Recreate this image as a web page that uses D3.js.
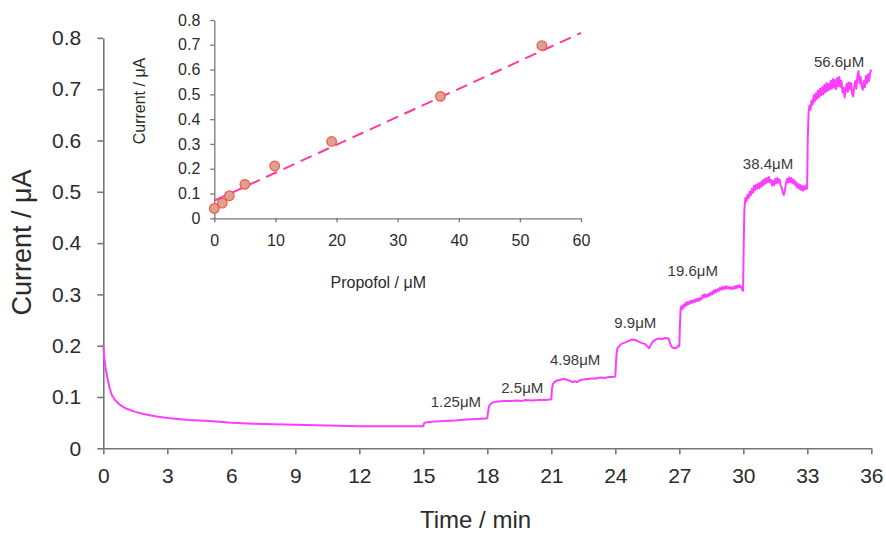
<!DOCTYPE html>
<html>
<head>
<meta charset="utf-8">
<script src="https://cdn.jsdelivr.net/npm/d3@7"></script>
<style>
  html, body { margin: 0; padding: 0; background: #fff; }
  svg { display: block; font-family: "Liberation Sans", Arial, Helvetica, sans-serif; }
  .axis path, .axis line { stroke: #777; }
  .axis text { fill: #2b2b2b; }
</style>
</head>
<body>
<svg id="chart" width="886" height="536"></svg>
<script>
// Amperometric trace: time (min) and current (µA)
const traceTime = [
  0, 0.05, 0.1, 0.2, 0.3, 0.4, 0.55, 0.8, 1.1, 1.5, 2.0, 2.5, 3.0, 3.5, 4.0, 4.5, 5.0, 6.0, 7.0, 8.0, 9.0, 10.0, 11.0, 12.0, 13.0, 14.0, 14.97,
  15.0, 15.02, 15.06, 15.2, 15.5, 16.0, 16.5, 17.0, 17.5, 17.95, 18.0,
  18.05, 18.1, 18.2, 18.3, 18.5, 18.8, 19.1, 19.4, 19.6, 19.8, 20.1, 20.4, 20.7, 20.95, 21.0,
  21.03, 21.07, 21.15, 21.25, 21.4, 21.55, 21.7, 21.85, 22.0, 22.1, 22.2, 22.35, 22.5, 22.7, 22.9, 23.1, 23.3, 23.5, 23.7, 23.9, 24.0,
  24.03, 24.06, 24.1, 24.2, 24.3, 24.45, 24.6, 24.8, 24.95, 25.1, 25.25, 25.4, 25.5, 25.58, 25.65, 25.75, 25.9, 26.05, 26.2, 26.35, 26.5, 26.56, 26.62, 26.7, 26.8, 26.9, 26.97,
  27.0, 27.03, 27.06,
  27.1, 27.15, 27.2, 27.25, 27.3, 27.35, 27.4, 27.45, 27.5, 27.55, 27.6, 27.65, 27.7, 27.75, 27.8, 27.85, 27.9, 27.95,
  28.0, 28.05, 28.1, 28.15, 28.2, 28.25, 28.3, 28.35, 28.4, 28.45, 28.5, 28.55, 28.6, 28.65, 28.7, 28.75, 28.8, 28.85, 28.9, 28.95,
  29.0, 29.05, 29.1, 29.15, 29.2, 29.25, 29.3, 29.35, 29.4, 29.45, 29.5, 29.55, 29.6, 29.65, 29.7, 29.75, 29.8, 29.85, 29.9, 29.95, 29.99,
  30.02, 30.05, 30.1,
  30.15, 30.2, 30.25, 30.3, 30.35, 30.4, 30.45, 30.5, 30.55, 30.6, 30.65, 30.7, 30.75, 30.8, 30.85, 30.9, 30.95,
  31.0, 31.05, 31.1, 31.15, 31.2, 31.25, 31.3, 31.35, 31.4, 31.45, 31.5, 31.55, 31.6, 31.65, 31.7, 31.75, 31.8, 31.85, 31.9, 31.95,
  32.0, 32.05, 32.1, 32.15, 32.2, 32.25, 32.3, 32.35, 32.4, 32.45, 32.5, 32.55, 32.6, 32.65, 32.7, 32.75, 32.8, 32.85, 32.9, 32.95, 32.99,
  33.02, 33.06, 33.1,
  33.15, 33.2, 33.25, 33.3, 33.35, 33.4, 33.45, 33.5, 33.55, 33.6, 33.65, 33.7, 33.75, 33.8, 33.85, 33.9, 33.95,
  34.0, 34.05, 34.1, 34.15, 34.2, 34.25, 34.3, 34.35, 34.4, 34.45, 34.5, 34.55, 34.6, 34.65, 34.7, 34.75, 34.8, 34.85, 34.9, 34.95,
  35.0, 35.05, 35.1, 35.15, 35.2, 35.25, 35.3, 35.35, 35.4, 35.45, 35.5, 35.55, 35.6, 35.65, 35.7, 35.75, 35.8, 35.85, 35.9, 35.95, 36.0
];
const traceCurrent = [
  0.200, 0.175, 0.158, 0.135, 0.117, 0.104, 0.094, 0.084, 0.077, 0.071, 0.066, 0.062, 0.059, 0.057, 0.055, 0.054, 0.053, 0.050, 0.048, 0.047, 0.046, 0.045, 0.044, 0.043, 0.043, 0.043, 0.043,
  0.043, 0.047, 0.050, 0.051, 0.052, 0.053, 0.054, 0.056, 0.057, 0.058, 0.059,
  0.075, 0.084, 0.088, 0.090, 0.091, 0.092, 0.092, 0.093, 0.092, 0.094, 0.093, 0.094, 0.094, 0.095, 0.096,
  0.115, 0.125, 0.129, 0.132, 0.133, 0.135, 0.134, 0.132, 0.129, 0.131, 0.129, 0.133, 0.134, 0.135, 0.136, 0.136, 0.138, 0.137, 0.139, 0.139, 0.140,
  0.165, 0.185, 0.195, 0.200, 0.204, 0.206, 0.209, 0.212, 0.211, 0.208, 0.205, 0.203, 0.199, 0.195, 0.200, 0.208, 0.212, 0.214, 0.213, 0.215, 0.214, 0.206, 0.199, 0.196, 0.195, 0.197, 0.201,
  0.199, 0.240, 0.272,
  0.277, 0.271, 0.280, 0.276, 0.284, 0.279, 0.285, 0.281, 0.287, 0.283, 0.288, 0.284, 0.289, 0.286, 0.291, 0.287, 0.292, 0.288,
  0.293, 0.291, 0.299, 0.294, 0.300, 0.295, 0.299, 0.296, 0.302, 0.298, 0.304, 0.300, 0.307, 0.303, 0.309, 0.305, 0.310, 0.307, 0.313, 0.309,
  0.314, 0.310, 0.315, 0.311, 0.316, 0.312, 0.315, 0.311, 0.314, 0.310, 0.314, 0.311, 0.316, 0.312, 0.317, 0.313, 0.318, 0.314, 0.316, 0.309, 0.307,
  0.400, 0.465, 0.488,
  0.482, 0.494, 0.488, 0.500, 0.493, 0.506, 0.498, 0.512, 0.503, 0.514, 0.506, 0.516, 0.507, 0.518, 0.510, 0.522, 0.513,
  0.525, 0.516, 0.527, 0.519, 0.529, 0.518, 0.523, 0.512, 0.521, 0.513, 0.525, 0.516, 0.527, 0.518, 0.524, 0.512, 0.508, 0.498, 0.494, 0.503,
  0.516, 0.525, 0.518, 0.528, 0.519, 0.527, 0.517, 0.524, 0.514, 0.520, 0.509, 0.516, 0.506, 0.514, 0.504, 0.512, 0.502, 0.511, 0.505, 0.512, 0.506,
  0.600, 0.655, 0.668,
  0.660, 0.678, 0.670, 0.688, 0.676, 0.692, 0.681, 0.697, 0.684, 0.701, 0.688, 0.704, 0.690, 0.708, 0.694, 0.712, 0.697,
  0.710, 0.699, 0.716, 0.701, 0.720, 0.703, 0.718, 0.700, 0.722, 0.706, 0.724, 0.705, 0.716, 0.694, 0.703, 0.684, 0.699, 0.711, 0.695, 0.713,
  0.700, 0.712, 0.692, 0.686, 0.705, 0.716, 0.701, 0.726, 0.735, 0.712, 0.724, 0.705, 0.699, 0.716, 0.704, 0.726, 0.712, 0.729, 0.716, 0.733, 0.738
];

// Propofol additions annotated on the trace (label, time, current at label baseline)
const stepLabels = ["1.25\u03bcM", "2.5\u03bcM", "4.98\u03bcM", "9.9\u03bcM", "19.6\u03bcM", "38.4\u03bcM", "56.6\u03bcM"];
const stepLabelTime = [16.53, 19.64, 22.12, 24.94, 27.63, 31.16, 34.49];
const stepLabelCurrent = [0.0805, 0.1084, 0.1624, 0.234, 0.3365, 0.544, 0.744];

// Calibration (inset): concentration (µM) vs steady-state current (µA)
const calConc = [0, 1.3, 2.46, 5.0, 9.88, 19.2, 37.0, 53.6];
const calCurrent = [0.040, 0.061, 0.091, 0.137, 0.211, 0.310, 0.492, 0.697];
const fitIntercept = 0.071;
const fitSlope = 0.01128;

// Axis ticks
const mainTimeTicks = [0, 3, 6, 9, 12, 15, 18, 21, 24, 27, 30, 33, 36];
const mainCurrentTicks = [0, 0.1, 0.2, 0.3, 0.4, 0.5, 0.6, 0.7, 0.8];
const insetConcTicks = [0, 10, 20, 30, 40, 50, 60];
const insetCurrentTicks = [0, 0.1, 0.2, 0.3, 0.4, 0.5, 0.6, 0.7, 0.8];

const svg = d3.select("#chart");
const fmt = d => d === 0 ? "0" : d3.format(".1f")(d);

// ---- Main panel ----
const x = d3.scaleLinear().domain([0, 36]).range([103.3, 871.3]);
const y = d3.scaleLinear().domain([0, 0.8]).range([448.3, 37.9]);

const gx = svg.append("g").attr("class", "axis")
  .attr("transform", `translate(0,${y(0)})`)
  .call(d3.axisBottom(x).tickValues(mainTimeTicks).tickSize(6).tickSizeOuter(0).tickPadding(14).tickFormat(d3.format("d")));
gx.selectAll("text").style("font-size", "21px");
gx.selectAll("path, line").style("stroke-width", 1.6);

const gy = svg.append("g").attr("class", "axis")
  .attr("transform", `translate(${x(0)},0)`)
  .call(d3.axisLeft(y).tickValues(mainCurrentTicks).tickSize(6).tickSizeOuter(0).tickPadding(16).tickFormat(fmt));
gy.selectAll("text").style("font-size", "21px");
gy.selectAll("path, line").style("stroke-width", 1.6);

const trace = traceTime.map((t, i) => [t, traceCurrent[i]]);
svg.append("path")
  .datum(trace)
  .attr("fill", "none")
  .attr("stroke", "#ff3dff")
  .attr("stroke-width", 2)
  .attr("stroke-linejoin", "round")
  .attr("d", d3.line().x(d => x(d[0])).y(d => y(d[1])));

svg.append("g").selectAll("text")
  .data(stepLabels)
  .join("text")
  .attr("x", (d, i) => x(stepLabelTime[i]))
  .attr("y", (d, i) => y(stepLabelCurrent[i]))
  .attr("text-anchor", "middle")
  .style("font-size", "15px")
  .style("fill", "#3a3a3a")
  .text(d => d);

svg.append("text")
  .attr("transform", "translate(31,242.5) rotate(-90)")
  .attr("text-anchor", "middle")
  .style("font-size", "27px")
  .style("fill", "#2b2b2b")
  .text("Current / \u03bcA");

svg.append("text")
  .attr("x", 475.5).attr("y", 527.5)
  .attr("text-anchor", "middle")
  .style("font-size", "24px")
  .style("fill", "#2b2b2b")
  .text("Time / min");

// ---- Inset calibration panel ----
const xi = d3.scaleLinear().domain([0, 60]).range([214.3, 581]);
const yi = d3.scaleLinear().domain([0, 0.8]).range([218.3, 20]);

const gxi = svg.append("g").attr("class", "axis")
  .attr("transform", `translate(0,${yi(0)})`)
  .call(d3.axisBottom(xi).tickValues(insetConcTicks).tickSize(4).tickSizeOuter(0).tickPadding(12).tickFormat(d3.format("d")));
gxi.selectAll("text").style("font-size", "16px");
gxi.selectAll("path, line").style("stroke-width", 1.3);

const gyi = svg.append("g").attr("class", "axis")
  .attr("transform", `translate(${xi(0)},0)`)
  .call(d3.axisLeft(yi).tickValues(insetCurrentTicks).tickSize(4).tickSizeOuter(0).tickPadding(10).tickFormat(fmt));
gyi.selectAll("text").style("font-size", "16px");
gyi.selectAll("path, line").style("stroke-width", 1.3);

svg.append("line")
  .attr("x1", xi(0)).attr("y1", yi(fitIntercept))
  .attr("x2", xi(60)).attr("y2", yi(fitIntercept + fitSlope * 60))
  .attr("stroke", "#ff3a9c")
  .attr("stroke-width", 2)
  .attr("stroke-dasharray", "12,7");

svg.append("g").selectAll("circle")
  .data(calConc)
  .join("circle")
  .attr("cx", d => xi(d))
  .attr("cy", (d, i) => yi(calCurrent[i]))
  .attr("r", 4.8)
  .attr("fill", "#d8a29c")
  .attr("stroke", "#ff5434")
  .attr("stroke-width", 1.2);

svg.append("text")
  .attr("transform", "translate(145,101) rotate(-90)")
  .attr("text-anchor", "middle")
  .style("font-size", "16px")
  .style("fill", "#2b2b2b")
  .text("Current / \u03bcA");

svg.append("text")
  .attr("x", 378.3).attr("y", 288)
  .attr("text-anchor", "middle")
  .style("font-size", "16px")
  .style("fill", "#2b2b2b")
  .text("Propofol / \u03bcM");
</script>
</body>
</html>
